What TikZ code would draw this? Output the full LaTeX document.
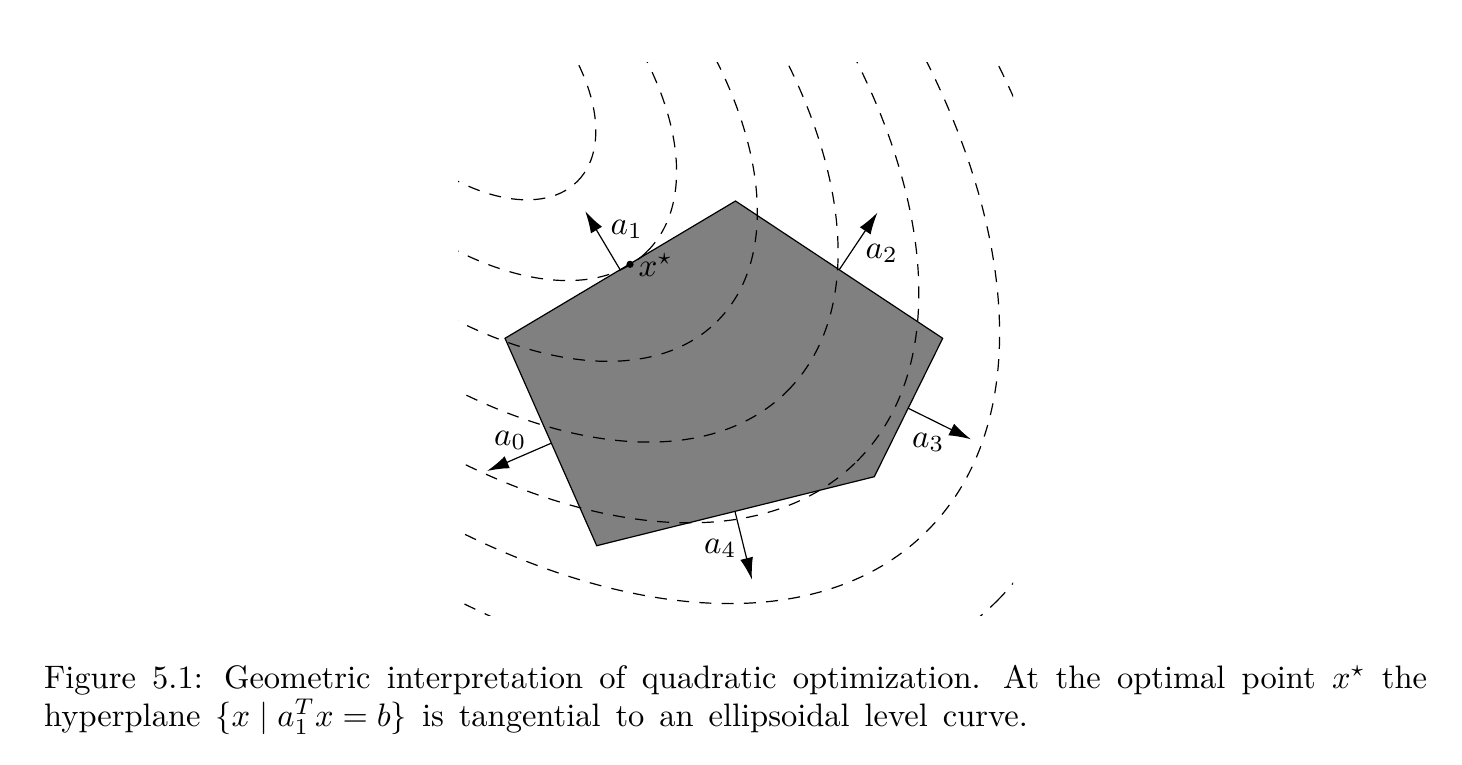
\documentclass[tikz,border=0pt]{standalone}
\usetikzlibrary{arrows.meta}
\newcommand{\lblsize}[1]{\scalebox{3.3}{#1}}
\begin{document}
\begin{tikzpicture}[x=1pt,y=-1pt,
  level/.style={dash pattern=on 12pt off 10.3pt, line width=1.2pt},
  normalarrow/.style={line width=1.2pt,-{Latex[length=22pt,width=13pt]}},
  lbl/.style={inner sep=0pt, anchor=base west}]
\useasboundingbox (0,0) rectangle (1462,764);
% polygon vertices
\coordinate (P1) at (505,338.3);
\coordinate (P2) at (735.5,201);
\coordinate (P3) at (942.7,338.3);
\coordinate (P4) at (874.3,476.7);
\coordinate (P5) at (596.7,545.7);
\fill[gray] (P1) -- (P2) -- (P3) -- (P4) -- (P5) -- cycle;
% level curves
\coordinate (C) at (458,62);
\begin{scope}
  \clip (458,62) rectangle (1013,615);
  \foreach \k in {1,...,7}{
    \pgfmathsetmacro\A{69.9+98.9*\k}
    \pgfmathsetmacro\B{0.577*\A}
    \draw[level, rotate around={-45:(C)}] (C) ellipse [x radius=\A pt, y radius=\B pt];
  }
\end{scope}
\draw[line width=1.2pt, line join=miter] (P1) -- (P2) -- (P3) -- (P4) -- (P5) -- cycle;
% normals
\coordinate (b1) at (620,269.5);   \coordinate (t1) at (585.2,211.1);
\coordinate (b2) at (839.3,269.6); \coordinate (t2) at (877.5,212.5);
\coordinate (b3) at (908.3,408.3); \coordinate (t3) at (971,439.3);
\coordinate (b4) at (735,511.5);   \coordinate (t4) at (751.9,579.7);
\coordinate (b0) at (551,443.3);   \coordinate (t0) at (487,471);
\draw[normalarrow] (b1) -- (t1);
\draw[normalarrow] (b2) -- (t2);
\draw[normalarrow] (b3) -- (t3);
\draw[normalarrow] (b4) -- (t4);
\draw[normalarrow] (b0) -- (t0);
\fill (630,264.3) circle (3.6pt);
\node[lbl] (la1) at (610.5,234) {\lblsize{$a_1$}};
\node[lbl] (la2) at (865.5,258) {\lblsize{$a_2$}};
\node[lbl] (la3) at (912,447) {\lblsize{$a_3$}};
\node[lbl] (la0) at (494,445) {\lblsize{$a_0$}};
\node[lbl] (la4) at (704,553) {\lblsize{$a_4$}};
\node[lbl] (lx) at (638.5,276) {\lblsize{$x^\star$}};
\node[inner sep=0pt, anchor=base west] (cap) at (44,688)
 {\scalebox{3.25}{\parbox[t]{425.5pt}{\fontsize{10}{11.9}\selectfont
 \spaceskip=4.6pt plus 3pt minus 1pt\hbadness=10000
 Figure 5.1: Geometric interpretation of quadratic optimization. At the optimal point $x^\star$ the\linebreak hyperplane $\{x \mid a_1^T x = b\}$ is tangential to an ellipsoidal level curve.}}};
\end{tikzpicture}
\end{document}
